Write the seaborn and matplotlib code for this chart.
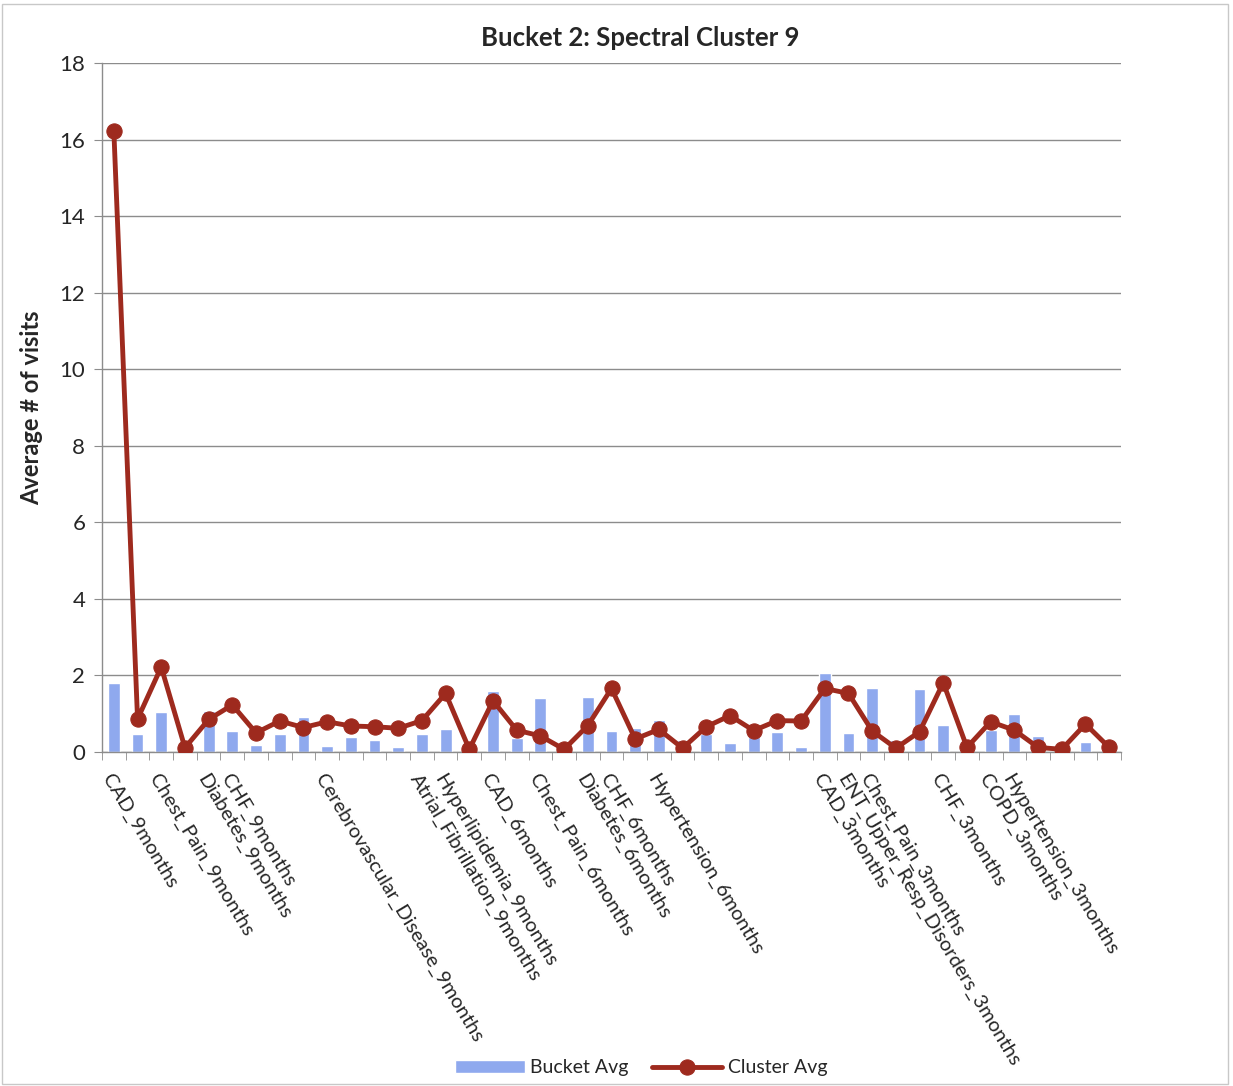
import numpy as np
import pandas as pd
import matplotlib
matplotlib.use("Agg")
import matplotlib.pyplot as plt
import seaborn as sns
from matplotlib.patches import Rectangle

# Category axis labels (only some categories carry a visible label)
tick_labels = [
    "CAD_9months", "", "Chest_Pain_9months", "", "Diabetes_9months",
    "CHF_9months", "", "", "", "Cerebrovascular_Disease_9months",
    "", "", "", "Atrial_Fibrillation_9months", "Hyperlipidemia_9months",
    "", "CAD_6months", "", "Chest_Pain_6months", "",
    "Diabetes_6months", "CHF_6months", "", "Hypertension_6months", "",
    "", "", "", "", "",
    "CAD_3months", "ENT_Upper_Resp_Disorders_3months", "Chest_Pain_3months", "", "",
    "CHF_3months", "", "COPD_3months", "Hypertension_3months", "",
    "", "", "",
]

bucket_avg = [
    1.80, 0.46, 1.05, 0.08, 1.08, 0.55, 0.18, 0.47, 0.92, 0.16,
    0.38, 0.31, 0.12, 0.46, 0.60, 0.05, 1.60, 0.36, 1.40, 0.05,
    1.43, 0.55, 0.62, 0.84, 0.31, 0.47, 0.24, 0.38, 0.53, 0.12,
    2.06, 0.50, 1.66, 0.31, 1.65, 0.71, 0.05, 0.57, 0.98, 0.42,
    0.05, 0.27, 0.05,
]

cluster_avg = [
    16.22, 0.86, 2.22, 0.11, 0.85, 1.23, 0.50, 0.81, 0.64, 0.79,
    0.68, 0.66, 0.62, 0.82, 1.53, 0.07, 1.34, 0.57, 0.42, 0.07,
    0.69, 1.66, 0.34, 0.59, 0.10, 0.66, 0.95, 0.56, 0.82, 0.81,
    1.66, 1.53, 0.55, 0.10, 0.53, 1.81, 0.12, 0.79, 0.57, 0.12,
    0.07, 0.73, 0.12,
]

n = len(cluster_avg)
df = pd.DataFrame({
    "pos": np.arange(n),
    "Bucket Avg": bucket_avg,
    "Cluster Avg": cluster_avg,
})

sns.set_style("white")
plt.rcParams["font.family"] = ["Lato", "DejaVu Sans"]

W, H = 1233, 1086
fig = plt.figure(figsize=(W / 100, H / 100), dpi=100)
ax = fig.add_axes([102 / W, 1 - 752 / H, (1121 - 102) / W, (752 - 63) / H])

bar_color = "#8FA9EE"
line_color = "#9E2A1E"
grid_color = "#8C8C8C"

sns.barplot(data=df, x="pos", y="Bucket Avg", color=bar_color, width=0.5,
            saturation=1, ax=ax, zorder=2, label="Bucket Avg")
sns.lineplot(data=df, x="pos", y="Cluster Avg", color=line_color, linewidth=3.5,
             marker="o", markersize=11, markeredgecolor=line_color,
             ax=ax, zorder=3, label="Cluster Avg")

ax.set_xlim(-0.5, n - 0.5)
ax.set_ylim(0, 18)
ax.set_yticks(np.arange(0, 19, 2))
ax.yaxis.grid(True, color=grid_color, linewidth=1.0)
ax.set_axisbelow(True)

for side in ["top", "right"]:
    ax.spines[side].set_visible(False)
for side in ["left", "bottom"]:
    ax.spines[side].set_color(grid_color)
    ax.spines[side].set_linewidth(1.0)

ax.tick_params(axis="y", length=6, color=grid_color, labelsize=16, pad=6,
               left=True)
ax.set_xticks(df["pos"])
ax.set_xticklabels(tick_labels, rotation=-59, ha="left", va="top",
                   rotation_mode="anchor", fontsize=14.5)
ax.tick_params(axis="x", which="major", length=0, pad=14)
ax.set_xticks(np.arange(-0.5, n, 1), minor=True)
ax.tick_params(axis="x", which="minor", length=6, color=grid_color,
               direction="out", bottom=True)

ax.set_xlabel("")
ax.set_ylabel("Average # of visits", fontsize=17, fontweight="bold", labelpad=12)

fig.text(640 / W, 1 - 38 / H, "Bucket 2: Spectral Cluster 9",
         ha="center", va="center", fontsize=18.5, fontweight="bold")

handles, labels = ax.get_legend_handles_labels()
if ax.get_legend():
    ax.get_legend().remove()
order = [labels.index("Bucket Avg"), labels.index("Cluster Avg")]
fig.legend([handles[i] for i in order], [labels[i] for i in order],
           loc="center", bbox_to_anchor=(641 / W, 1 - 1068 / H),
           ncol=2, frameon=False, fontsize=14, handlelength=3.6,
           handleheight=0.6, columnspacing=1.2, handletextpad=0.3)

# Chart-area border
fig.patches.append(Rectangle((0.002, 0.002), 0.994, 0.994, transform=fig.transFigure,
                             fill=False, edgecolor="#C8C8C8", linewidth=1.0))

fig.savefig("out.png", dpi=100)
